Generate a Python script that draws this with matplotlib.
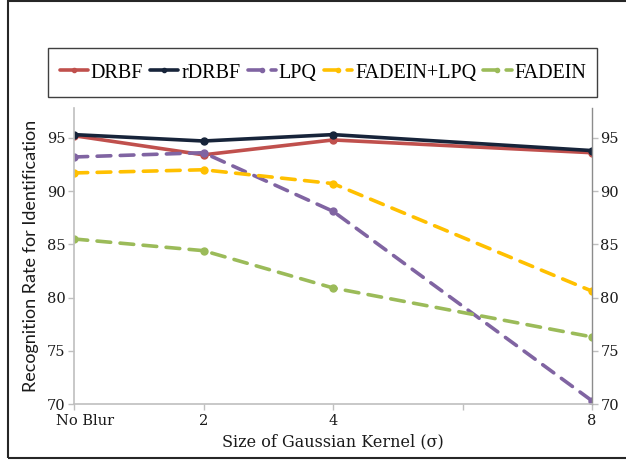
import matplotlib
matplotlib.use("Agg")
import matplotlib.pyplot as plt
import matplotlib.transforms as mtransforms
from matplotlib.patches import Rectangle

# ---------------------------------------------------------------------------
# Data
# ---------------------------------------------------------------------------
tick_labels = ["No Blur", "2", "4", "", "8"]
x_pos = [0, 1, 2, 4]            # category slots that carry data

drbf = [95.2, 93.4, 94.8, 93.6]
rdrbf = [95.3, 94.7, 95.3, 93.8]
lpq = [93.2, 93.6, 88.1, 70.3]
fadein_lpq = [91.7, 92.0, 90.7, 80.6]
fadein = [85.5, 84.4, 80.9, 76.3]

SERIES = [
    ("DRBF", drbf, "#C0504D", "-"),
    ("rDRBF", rdrbf, "#17243A", "-"),
    ("LPQ", lpq, "#8064A2", "--"),
    ("FADEIN+LPQ", fadein_lpq, "#FFC000", "--"),
    ("FADEIN", fadein, "#9BBB59", "--"),
]

W, H = 626, 461
fig = plt.figure(figsize=(W / 100, H / 100), dpi=100)
ax = fig.add_axes([74 / W, 1 - 404 / H, (592 - 74) / W, (404 - 108) / H])

for name, vals, color, ls in SERIES:
    kw = dict(color=color, lw=2.6, marker="o", markersize=5, label=name,
              solid_capstyle="round")
    if ls == "--":
        kw.update(linestyle=(0, (3.8, 2.6)), dash_capstyle="round")
    ax.plot(x_pos, vals, **kw)

ax.set_xlim(0, 4)
ax.set_ylim(70, 97.8)
ax.set_xticks(range(5))
ax.set_xticklabels(tick_labels)
ax.set_yticks([70, 75, 80, 85, 90, 95])

axis_col = "#BFBFBF"
for side in ("left", "bottom"):
    ax.spines[side].set_color(axis_col)
    ax.spines[side].set_linewidth(1.2)
ax.spines["right"].set_color("#8C8C8C")
ax.spines["right"].set_linewidth(1.0)
ax.spines["top"].set_visible(False)
ax.tick_params(axis="both", colors=axis_col, labelcolor="#1A1A1A",
               length=4, width=1, direction="out")
ax.tick_params(axis="y", left=True, right=True, labelleft=True,
               labelright=True, pad=2)
ax.tick_params(axis="x", pad=3)
for lab in ax.get_xticklabels() + ax.get_yticklabels():
    lab.set_fontfamily("DejaVu Serif")
    lab.set_fontsize(10.5)

# first category label sits a bit right of its tick, as in the original
first = ax.get_xticklabels()[0]
first.set_transform(first.get_transform() +
                    mtransforms.ScaledTranslation(11 / 100, 0, fig.dpi_scale_trans))

ax.set_ylabel("Recognition Rate for Identification", family="Lato",
              fontsize=13, labelpad=6, color="#1A1A1A")
ax.set_xlabel("Size of Gaussian Kernel (\u03c3)", family="DejaVu Serif",
              fontsize=11.5, labelpad=4, color="#1A1A1A")

# legend: frameless entries inside a separately drawn box
leg = fig.legend(loc="center", ncol=5, bbox_to_anchor=(323 / W, 1 - 73 / H),
                 prop={"family": "Liberation Serif", "size": 14.5},
                 handlelength=1.4, handletextpad=0.15, columnspacing=0.35,
                 frameon=False, markerscale=0.6)
fig.patches.append(Rectangle((48 / W, 1 - 97 / H), 549 / W, 49 / H,
                             transform=fig.transFigure, fill=False,
                             edgecolor="#404040", linewidth=1.0))

# outer frame of the original figure
fig.patches.append(Rectangle((8 / W, 3 / H), 1.2, 1 - 4 / H,
                             transform=fig.transFigure, fill=False,
                             edgecolor="#262626", linewidth=1.5))

fig.savefig("out.png", dpi=100)
